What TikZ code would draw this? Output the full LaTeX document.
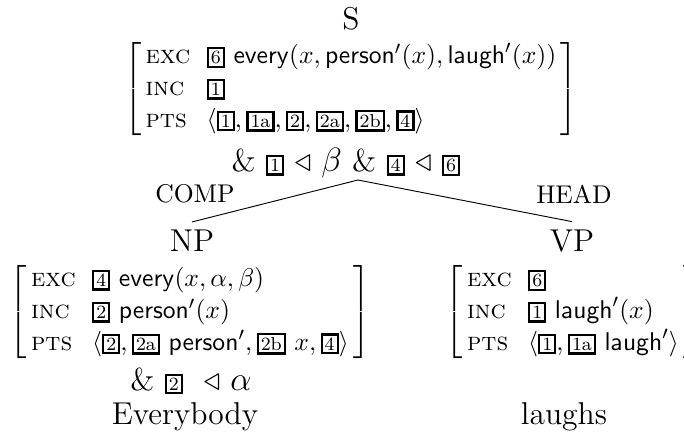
\documentclass[tikz,border=0pt]{standalone}
\usepackage{amsmath, amssymb}
\usetikzlibrary{positioning}
\newcommand{\bx}[1]{{\setlength{\fboxsep}{0.8pt}\setlength{\fboxrule}{1pt}\fbox{\footnotesize #1}}}
\newcommand{\ftr}[1]{\text{\textsc{#1}}}
\tikzset{
	cat/.style = {font = \fontsize{13.5}{16}\selectfont},
	avm/.style = {inner sep = 0pt, font = \fontsize{10.95}{13.6}\selectfont},
	arclabel/.style = {inner sep = 0pt, font = \fontsize{10.95}{13.6}\selectfont},
	word/.style = {inner sep = 0pt, font = \fontsize{13.5}{16}\selectfont},
}

\begin{document}
\begin{tikzpicture}[x = 0.4274pt, y = -0.4274pt]
		\useasboundingbox (0, 0) rectangle (684, 436);
		%%%%%%%%%%%%%
		\node[cat, inner sep = 0pt] (s) at (351, 19) {S};
		\node[avm] (sAvm) at (351, 89) {$\left[\begin{array}{@{\,}l@{\hspace{7pt}}l@{\,}}
			\ftr{exc} & \bx{6}\ \mathsf{every}(x, \mathsf{person}'(x), \mathsf{laugh}'(x)) \\
			\ftr{inc} & \bx{1} \\
			\ftr{pts} & \langle \bx{1}, \bx{1a}, \bx{2}, \bx{2a}, \bx{2b}, \bx{4} \rangle
		\end{array}\right]$};
		\node[word] (sCons) at (346, 163) {\& \bx{1} $\triangleleft\ \beta$ \& \bx{4} $\triangleleft$ \bx{6}};
		\coordinate (apex) at (358, 180);
		%%%%%%%%%%%%%
		\node[arclabel] (comp) at (195, 194) {COMP};
		\node[arclabel] (head) at (574, 194) {HEAD};
		%%%%%%%%%%%%%
		\node[cat] (np) at (192, 241) {NP};
		\node[avm] (npAvm) at (190, 312) {$\left[\begin{array}{@{\,}l@{\hspace{7pt}}l@{\,}}
			\ftr{exc} & \bx{4}\ \mathsf{every}(x, \alpha, \beta) \\
			\ftr{inc} & \bx{2}\ \mathsf{person}'(x) \\
			\ftr{pts} & \langle \bx{2}, \bx{2a}\ \mathsf{person}', \bx{2b}\ x, \bx{4} \rangle
		\end{array}\right]$};
		\node[word] (npCons) at (191, 381) {\& \bx{2}\ \ $\triangleleft\ \alpha$};
		\node[word] (everybody) at (185, 417) {Everybody};
		%%%%%%%%%%%%%
		\node[cat] (vp) at (572, 241) {VP};
		\node[avm] (vpAvm) at (573, 312) {$\left[\begin{array}{@{\,}l@{\hspace{7pt}}l@{\,}}
			\ftr{exc} & \bx{6} \\
			\ftr{inc} & \bx{1}\ \mathsf{laugh}'(x) \\
			\ftr{pts} & \langle \bx{1}, \bx{1a}\ \mathsf{laugh}' \rangle
		\end{array}\right]$};
		\node[word] (laughs) at (564, 417) {laughs};
		%%%%%%%%%%%%%
		\draw (apex) to (np.north); \draw (apex) to (vp.north);
\end{tikzpicture}
\end{document}
